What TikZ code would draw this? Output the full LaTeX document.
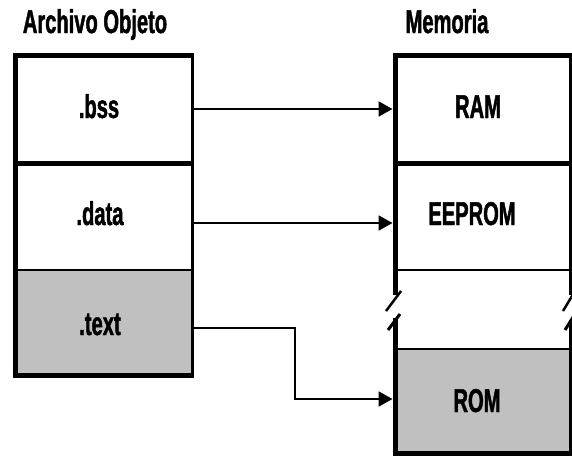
\documentclass[tikz,border=0pt]{standalone}
\usepackage{fontspec}
\setmainfont[FakeStretch=0.61,FakeBold=1.3]{Liberation Sans}
\usetikzlibrary{arrows.meta}
\definecolor{secgray}{HTML}{C0C0C0}
\tikzset{
  sec/.style={inner sep=0pt, outer sep=0pt, minimum width=#1},
  lbl/.style={anchor=base, inner sep=0pt, font=\fontsize{33}{34}\selectfont\bfseries},
  conn/.style={line width=2pt, -{Triangle[length=14pt,width=15pt]}, shorten >=2.5pt},
  thick border/.style={line width=5pt},
  mid border/.style={line width=3.5pt},
  thin border/.style={line width=2.2pt},
}
\begin{document}
\begin{tikzpicture}[x=1pt,y=-1pt]
\useasboundingbox (0,0) rectangle (572,456);
% fills
\fill[secgray] (15,270) rectangle (192.5,375);
\fill[secgray] (395,349) rectangle (570,453);
% section nodes (areas)
\node[sec=177.5, minimum height=108] (bss) at (103.75,109) {};
\node[sec=177.5, minimum height=107] (data) at (103.75,216.5) {};
\node[sec=177.5, minimum height=105] (text) at (103.75,322.5) {};
\node[sec=175, minimum height=108] (ram) at (482.5,109) {};
\node[sec=175, minimum height=107] (eeprom) at (482.5,216.5) {};
\node[sec=175, minimum height=79] (gap) at (482.5,309.5) {};
\node[sec=175, minimum height=104] (rom) at (482.5,401) {};
% titles and labels
\node[lbl] (t1) at (95,33) {Archivo Objeto};
\node[lbl] (t2) at (447,33) {Memoria};
\node[lbl] (l1) at (99,118) {.bss};
\node[lbl] (l2) at (100,225) {.data};
\node[lbl] (l3) at (100,335) {.text};
\node[lbl] (l4) at (478,118) {RAM};
\node[lbl] (l5) at (472,225) {EEPROM};
\node[lbl] (l6) at (477,412) {ROM};
% left box borders
\draw[thick border] (15,52.5) -- (15,377.5);
\draw[thick border] (12.5,55) -- (194,55);
\draw[mid border] (192.5,53) -- (192.5,377);
\draw[thick border] (12.5,375) -- (194,375);
\draw[thick border] (15,163) -- (194,163);
\draw[thin border] (15,270) -- (192.5,270);
% right box borders
\draw[thick border] (395,52.5) -- (395,295);
\draw[thick border] (395,318) -- (395,455.5);
\draw[thick border] (392.5,55) -- (572,55);
\draw[mid border] (570.5,53) -- (570.5,295);
\draw[mid border] (570.5,320) -- (570.5,455);
\draw[thick border] (392.5,453) -- (572,453);
\draw[thick border] (395,163) -- (572,163);
\draw[thin border] (395,270) -- (572,270);
\draw[thin border] (395,349) -- (572,349);
% break marks
\draw[line width=2.5pt] (401,291) -- (386,311);
\draw[line width=3pt] (400,314) -- (388,330);
\draw[line width=2.5pt] (575,291) -- (563,311);
\draw[line width=3pt] (575,314) -- (565,330);
% connectors
\draw[conn] (bss.east) -- (ram.west);
\draw[conn] ([yshift=-6.5pt]data.east) -- ([yshift=-6.5pt]eeprom.west);
\draw[conn] ([yshift=-5.5pt]text.east) -- (295,328) -- (295,399) -- ([yshift=2pt]rom.west);
\end{tikzpicture}
\end{document}
